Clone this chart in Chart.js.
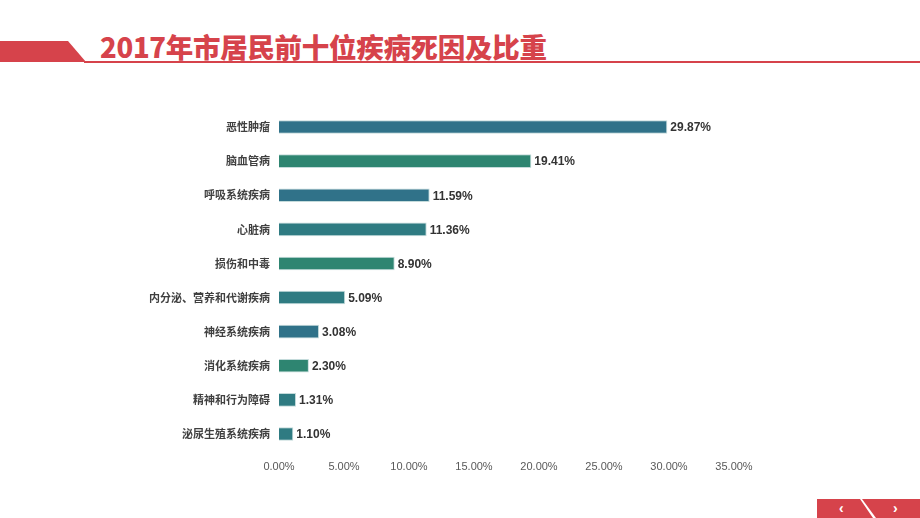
<!DOCTYPE html>
<html>
<head>
<meta charset="utf-8">
<script src="https://cdn.jsdelivr.net/npm/chart.js@4"></script>
<style>
  html, body { margin: 0; padding: 0; background: #fff; }
  #page { position: relative; width: 920px; height: 518px; overflow: hidden; }
  #wrap { position: absolute; left: 0; top: 0; width: 920px; height: 518px; }
  .tab { position: absolute; left: 0; top: 41px; width: 86px; height: 21px; background: #d6434b;
         clip-path: polygon(0 0, 68px 0, 86px 21px, 0 21px); }
  .rule { position: absolute; left: 84px; top: 61px; width: 836px; height: 2px; background: #d6434b; }
  .title { position: absolute; left: 100px; top: 28px; font-family: "Noto Sans CJK SC", sans-serif;
           font-weight: 900; font-size: 27.5px; color: #d6434b; letter-spacing: -0.3px; line-height: 36px; }
  .nav { position: absolute; top: 499px; height: 19px; background: #d6434b; color: #fff;
         font: bold 14px "Liberation Sans", sans-serif; line-height: 19px; }
  .nav.l { left: 817px; width: 56px; clip-path: polygon(0 0, 43px 0, 56px 19px, 0 19px); }
  .nav.r { left: 862px; width: 58px; clip-path: polygon(0 0, 58px 0, 58px 19px, 14px 19px); }
</style>
</head>
<body>
<div id="page">
  <div class="tab"></div>
  <div class="rule"></div>
  <div class="title">2017年市居民前十位疾病死因及比重</div>
  <div id="wrap"><canvas id="deathChart"></canvas></div>
  <div class="nav l"><span style="margin-left:22px">‹</span></div>
  <div class="nav r"><span style="margin-left:31px">›</span></div>
</div>
<script>
// 死因类别和比重（%）
const causes = ['恶性肿瘤', '脑血管病', '呼吸系统疾病', '心脏病', '损伤和中毒',
                '内分泌、营养和代谢疾病', '神经系统疾病', '消化系统疾病', '精神和行为障碍', '泌尿生殖系统疾病'];
const shares = [29.87, 19.41, 11.59, 11.36, 8.90, 5.09, 3.08, 2.30, 1.31, 1.10];
const xTicks = [0, 5, 10, 15, 20, 25, 30, 35];

const barColors = ['#307289', '#2e8571', '#307289', '#2f7b82', '#2e8571',
                   '#2f7b82', '#307289', '#2e8571', '#2f7b82', '#2f7b82'];

// 在柱子末端写出数值
const valueLabels = {
    id: 'valueLabels',
    afterDatasetsDraw(chart) {
        const ctx = chart.ctx;
        const meta = chart.getDatasetMeta(0);
        ctx.save();
        ctx.font = 'bold 12px "Liberation Sans", Arial, sans-serif';
        ctx.fillStyle = '#333333';
        ctx.textBaseline = 'middle';
        meta.data.forEach(function (bar, i) {
            ctx.fillText(shares[i].toFixed(2) + '%', bar.x + 3, bar.y + 1);
        });
        ctx.restore();
    }
};

document.addEventListener('DOMContentLoaded', function () {
    const ctx = document.getElementById('deathChart');
    new Chart(ctx, {
        type: 'bar',
        data: {
            labels: causes,
            datasets: [{
                data: shares,
                backgroundColor: barColors,
                borderColor: 'rgba(190,215,215,0.9)',
                borderWidth: 1,
                categoryPercentage: 1,
                barPercentage: 0.4
            }]
        },
        options: {
            indexAxis: 'y',
            responsive: true,
            maintainAspectRatio: false,
            animation: false,
            layout: { padding: { top: 110, right: 186, bottom: 37, left: 0 } },
            plugins: { legend: { display: false }, tooltip: { enabled: false } },
            scales: {
                x: {
                    min: 0,
                    max: 35,
                    afterBuildTicks(scale) { scale.ticks = xTicks.map(v => ({ value: v })); },
                    afterFit(scale) { scale.height = 30; },
                    grid: { display: false, drawTicks: false },
                    border: { display: false },
                    ticks: {
                        padding: 9,
                        color: '#595959',
                        font: { family: '"Liberation Sans", Arial, sans-serif', size: 11 },
                        callback: v => v.toFixed(2) + '%'
                    }
                },
                y: {
                    afterFit(scale) { scale.width = 279; },
                    grid: { display: false, drawTicks: false },
                    border: { display: false },
                    ticks: {
                        padding: 9,
                        color: '#404040',
                        font: { family: '"Noto Sans CJK SC", sans-serif', size: 11, weight: 'bold' }
                    }
                }
            }
        },
        plugins: [valueLabels]
    });
});
</script>
</body>
</html>
